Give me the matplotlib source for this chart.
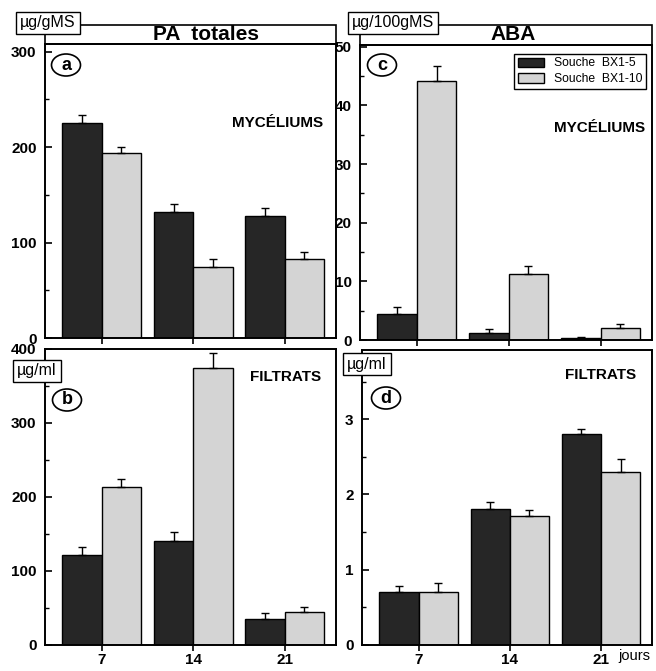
import numpy as np
import matplotlib.pyplot as plt
from matplotlib.patches import Rectangle, Ellipse, Patch

plt.rcParams['font.family'] = ['Liberation Sans', 'DejaVu Sans']

days = ['7', '14', '21']

# PA totales, mycelium (ug/gMS)
pa_myc_bx5 = [225, 132, 128]
pa_myc_bx5_err = [9, 8, 8]
pa_myc_bx10 = [194, 74, 83]
pa_myc_bx10_err = [6, 9, 7]

# PA totales, filtrates (ug/ml)
pa_fil_bx5 = [122, 141, 35]
pa_fil_bx5_err = [11, 12, 8]
pa_fil_bx10 = [214, 374, 45]
pa_fil_bx10_err = [10, 20, 6]

# ABA, mycelium (ug/100gMS)
aba_myc_bx5 = [4.4, 1.2, 0.4]
aba_myc_bx5_err = [1.2, 0.6, 0.15]
aba_myc_bx10 = [44.2, 11.2, 2.1]
aba_myc_bx10_err = [2.5, 1.4, 0.7]

# ABA, filtrates (ug/ml)
aba_fil_bx5 = [0.70, 1.81, 2.80]
aba_fil_bx5_err = [0.09, 0.09, 0.07]
aba_fil_bx10 = [0.70, 1.71, 2.30]
aba_fil_bx10_err = [0.13, 0.08, 0.17]

legend_labels = ['Souche  BX1-5', 'Souche  BX1-10']

W, H = 656, 671
dark = '#262626'
light = '#d4d4d4'

fig = plt.figure(figsize=(W / 100, H / 100), dpi=100)


def rect(l, t, r, b):
    return [l / W, 1 - b / H, (r - l) / W, (b - t) / H]


def fx(x):
    return x / W


def fy(y):
    return 1 - y / H


ax_a = fig.add_axes(rect(45, 44, 336, 338))
ax_c = fig.add_axes(rect(360, 45, 652, 340))
ax_b = fig.add_axes(rect(45, 349, 336, 645))
ax_d = fig.add_axes(rect(362, 350, 652, 645))

x = np.arange(len(days))
w = 0.43


def draw(ax, v1, e1, v2, e2, ylim, major, minor):
    for vals, errs, col, off in [(v1, e1, dark, -w / 2), (v2, e2, light, w / 2)]:
        ax.bar(x + off, vals, w, color=col, edgecolor='black', linewidth=1, zorder=2)
        ax.errorbar(x + off, vals, yerr=[np.zeros(len(errs)), errs], fmt='none',
                    ecolor='black', elinewidth=1, capsize=3, capthick=1, zorder=3)
    ax.set_xlim(-0.62, 2.56)
    ax.set_ylim(*ylim)
    ax.set_yticks(major)
    ax.set_yticks(minor, minor=True)
    ax.set_xticks(x)
    for s in ax.spines.values():
        s.set_linewidth(1.4)
    ax.tick_params(axis='y', which='major', direction='in', length=5, width=1.2, pad=6)
    ax.tick_params(axis='y', which='minor', direction='in', length=3, width=1)
    ax.tick_params(axis='x', direction='out', length=4, width=1.2, pad=2)
    for lab in ax.get_yticklabels():
        lab.set_fontweight('bold')
        lab.set_fontsize(11)


draw(ax_a, pa_myc_bx5, pa_myc_bx5_err, pa_myc_bx10, pa_myc_bx10_err,
     (0, 308), [0, 100, 200, 300], [50, 150, 250])
draw(ax_b, pa_fil_bx5, pa_fil_bx5_err, pa_fil_bx10, pa_fil_bx10_err,
     (0, 400), [0, 100, 200, 300, 400], [50, 150, 250, 350])
draw(ax_c, aba_myc_bx5, aba_myc_bx5_err, aba_myc_bx10, aba_myc_bx10_err,
     (0, 50.3), [0, 10, 20, 30, 40, 50], [5, 15, 25, 35, 45])
draw(ax_d, aba_fil_bx5, aba_fil_bx5_err, aba_fil_bx10, aba_fil_bx10_err,
     (0, 3.92), [0, 1, 2, 3], [0.5, 1.5, 2.5, 3.5])

for ax in (ax_a, ax_c):
    ax.set_xticklabels([])
for ax in (ax_b, ax_d):
    ax.set_xticklabels(days, fontweight='bold', fontsize=11)

fig.text(fx(618), fy(656), 'jours', fontsize=10.5, ha='left', va='center')

# title strips
for l, r, b in [(45, 336, 44), (360, 652, 45)]:
    fig.patches.append(Rectangle((fx(l), fy(b)), (r - l) / W, (b - 25) / H,
                                 transform=fig.transFigure, fill=False, lw=1.2))
fig.text(fx(206), fy(35), 'PA  totales', fontsize=15, fontweight='bold',
         ha='center', va='center')
fig.text(fx(513), fy(35), 'ABA', fontsize=15, fontweight='bold',
         ha='center', va='center')

# unit boxes
unit_box = dict(boxstyle='square,pad=0.25', fc='white', ec='black', lw=1)
fig.text(fx(48), fy(23), 'µg/gMS', fontsize=11.5, ha='center', va='center', bbox=unit_box)
fig.text(fx(393), fy(23), 'µg/100gMS', fontsize=11.5, ha='center', va='center', bbox=unit_box)
fig.text(fx(37), fy(371), 'µg/ml', fontsize=11.5, ha='center', va='center', bbox=unit_box)
fig.text(fx(367), fy(364), 'µg/ml', fontsize=11.5, ha='center', va='center', bbox=unit_box)

# circled panel letters
for letter, cx, cy in [('a', 66, 65), ('b', 67, 400), ('c', 382, 65), ('d', 386, 398)]:
    fig.patches.append(Ellipse((fx(cx), fy(cy)), 29 / W, 22 / H,
                               transform=fig.transFigure, fill=False, lw=1.2))
    fig.text(fx(cx), fy(cy), letter, fontsize=13, fontweight='bold',
             ha='center', va='center')

# panel annotations
fig.text(fx(278), fy(123), 'MYCÉLIUMS', fontsize=11, fontweight='bold', ha='center', va='center')
fig.text(fx(600), fy(128), 'MYCÉLIUMS', fontsize=11, fontweight='bold', ha='center', va='center')
fig.text(fx(286), fy(377), 'FILTRATS', fontsize=11, fontweight='bold', ha='center', va='center')
fig.text(fx(601), fy(375), 'FILTRATS', fontsize=11, fontweight='bold', ha='center', va='center')

handles = [Patch(facecolor=dark, edgecolor='black'), Patch(facecolor=light, edgecolor='black')]
ax_c.legend(handles, legend_labels, loc='upper right', bbox_to_anchor=(0.98, 0.97),
            borderaxespad=0, fancybox=False, edgecolor='black', framealpha=1,
            fontsize=8.7, handlelength=2.2, handleheight=0.8, labelspacing=0.3,
            borderpad=0.3)

fig.savefig('out.png', dpi=100)
